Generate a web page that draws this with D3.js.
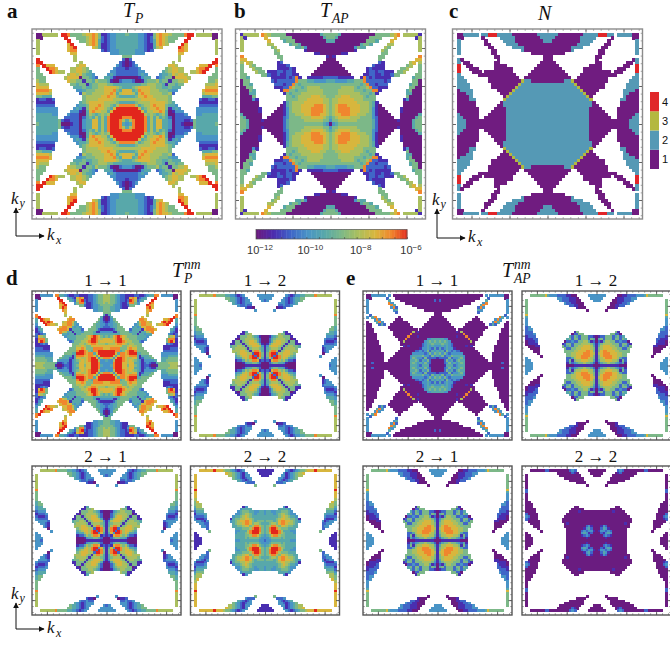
<!DOCTYPE html>
<html>
<head>
<meta charset="utf-8">
<script src="https://cdnjs.cloudflare.com/ajax/libs/d3/7.8.5/d3.min.js"></script>
<style>
html, body { margin: 0; padding: 0; background: #fff; overflow: hidden; }
svg { display: block; }
text { font-family: "Liberation Serif", serif; fill: #111; }
</style>
</head>
<body>
<div id="chart"></div>
<script>
// Level readings per cell, one wedge of the top-left quadrant of each map.
// Row r lists columns r..29 (right aligned), column 29 is the centre line, '.' = no states at this k.
// Levels 0-9 run along the 10^-12 .. 10^-6 colour bar.
var gridTP = [
"0066666.9985555677875112334445",
"0.......9...55567875212334444",
"........9...5567874212334444",
".......79....67874112334444",
"......789.....764112334444",
".....788........212333444",
".....77...........333444",
".....6...............55",
"....6...............20",
".....6............210",
"...677..........3210",
"667765........32221",
"677654......332222",
"675443....3432222",
"055432..44310000",
"155465554100233",
"14556665544444",
"4556677776544",
"566677785477",
"66677874677",
"6778775444",
"777766666",
"66665444",
"6546888",
"479999",
"99999",
"9999",
"988",
"64",
"3"];
var gridTAP = [
"1166666.87655555000000000004555",
"1......7....55550000000000455",
".......7....4555000000000044",
"......66.....45540000000000",
"......56......445300000000",
"......56........100000000",
".....55...........110000",
".....55..............10",
".....5..............00",
"...12.............000",
"..1112..........0000",
".111121.......00000",
"221221......000000",
"112211....0000000",
"121281..11111222",
"222855544333344",
"28545555555555",
"6554566665555",
"455566666555",
"56666666555",
"6667776655",
"677777665",
"77777665",
"7888765",
"888765",
"88765",
"7765",
"654",
"53",
"0"];
var gridN = [
"1122222.224442222211111111"+"2222",
"1......1.....22222111111112"+"22",
".......1.....2222111111111"+"22",
"......11.....2222"+"1111111111",
"......11......2222"+"11111111",
"......11........2"+"11111111",
".....11...........111111",
".....11..............11",
".....1..............11",
"...11.............111",
"..1111..........1111",
".111111.......11111",
"111111......111111",
"111111....1111111",
"111111..11111111",
"111111322111111",
"11113222222222",
"1132222222222",
"322222222222",
"22222222222",
"2222222222",
"222222222",
"22222222",
"2222222",
"222222",
"22222",
"2222",
"222",
"22",
"2"];
var gridP11 = [
"0033333.8844321122111122345566",
"0.......9...43217871122345566",
"........9...4326892122345566",
".......89....35883112345565",
"......789.....552112334555",
".....798........112334455",
".....87...........334455",
".....7...............55",
"....6...............41",
".....7............410",
"...788..........5310",
"678874........54321",
"788643......544332",
"774343....5544322",
"144442..55542111",
"144435555411333",
"14455555444444",
"5555678987545",
"556679987677",
"66789986777",
"5678876665",
"557777777",
"55888877",
"4889999",
"479999",
"47999",
"3688",
"334",
"33",
"3"];
var gridP12 = [
"..6666668555544332123.....3333",
"............554432123.....333",
"............544321233.....32",
".............43212333......",
"..............322322......",
"................2110.....",
"...................3....",
".......................",
"......................",
".....................",
"....................",
"...................",
"..................",
".................",
"................",
".....14........",
"...11556......",
".155566543100",
"055666654200",
"15667764200",
"1567776410",
"156777631",
"15666541",
"1688641",
"299851",
"29851",
"3741",
"121",
"00",
"0"];
var gridP21 = gridP12;
var gridP22 = [
"..7777779777655432123.....1111",
"............766543213.....111",
"............665432133.....11",
".............54321233......",
"..............432123......",
"................3222.....",
"...................5....",
".......................",
"......................",
".....................",
"....................",
"...................",
"..................",
".................",
"................",
".....13........",
"...34444......",
".345554433443",
"345665434443",
"56765444444",
"6776544444",
"887545554",
"87566544",
"5688654",
"899854",
"99854",
"9754",
"543",
"33",
"2"];
var gridAP11 = [
"00333333.3.0000000000000000000",
"0......2...000000000000000000",
".......4....0000000000000020",
"......83.....00000000000000",
"......84.......00000000000",
".....382........000000000",
".....34...........000000",
".....2...............00",
"....................00",
"....0.............000",
"..000...........0000",
"000000........00000",
"000000......000000",
"000000....0000000",
"0000000.00000000",
"000060100000000",
"00800000000000",
"8000100000000",
"000000033444",
"00000345454",
"0002344544",
"002343433",
"13343242",
"2352434",
"235354",
"32534",
"2221",
"000",
"00",
"0"];
var gridAP12 = [
"..5555557433322221100.....3333",
"............332221110.....333",
"............322211100.....33",
".............32211000......",
"..............221100......",
"................1000.....",
"...................0....",
".......................",
"......................",
".....................",
"....................",
"...................",
"..................",
".................",
"................",
".....15........",
"...02255......",
".425425552210",
"525525552540",
"32255664120",
"5556666531",
"566777641",
"67777651",
"7788751",
"888761",
"88751",
"7651",
"641",
"20",
"0"];
var gridAP21 = gridAP12;
var gridAP22 = [
"..0000002200000000232.....0000",
"............000000210.....000",
"............000000000.....00",
".............00000000......",
"..............000000......",
"................0000.....",
"...................0....",
".......................",
"......................",
".....................",
"....................",
"...................",
"..................",
".................",
"................",
".....00........",
"...00000......",
".000010000000",
"000000000000",
"00000000000",
"0000000000",
"000000000",
"00000000",
"0023100",
"134200",
"23310",
"1200",
"000",
"00",
"0"];

var levelExp = [-12, -11.33, -10.67, -10, -9.33, -8.67, -8, -7.33, -6.67, -6];
var levelColors = ["#6a1b80", "#4a2db0", "#3f66c8", "#4a94c6", "#58a8aa", "#7cb888", "#aabf5e", "#d8b63e", "#f0862e", "#e2281e"];
var barTicks = [-12, -10, -8, -6];
var legendLabels = ["1", "2", "3", "4"];
var legendColors = ["#701a80", "#5599b5", "#b4b840", "#e0282a"];
var majorTicks = [-2, -1, 0, 1, 2];
var minorTicks = d3.range(-24, 25, 2).map(function(d) { return d / 10; });

var width = 670, height = 648;
var kMax = 2.5, kData = 2.386, nCells = 59;

var svg = d3.select("#chart").append("svg")
    .attr("width", width)
    .attr("height", height);

var defs = svg.append("defs");
defs.append("filter").attr("id", "soft")
    .attr("x", "-5%").attr("y", "-5%").attr("width", "110%").attr("height", "110%")
  .append("feGaussianBlur").attr("stdDeviation", 0.7);
defs.append("marker").attr("id", "arrow")
    .attr("viewBox", "0 0 10 10").attr("refX", 9).attr("refY", 5)
    .attr("markerWidth", 6).attr("markerHeight", 6).attr("orient", "auto")
  .append("path").attr("d", "M0,0L10,5L0,10Z").attr("fill", "#111");

var colorT = d3.scaleLinear().domain(levelExp).range(levelColors);
var colorN = d3.scaleOrdinal().domain(legendLabels).range(legendColors);

// fold a 59x59 cell index back to the stored wedge
function readCell(grid, i, j) {
    var r = i < 30 ? i : 58 - i;
    var c = j < 30 ? j : 58 - j;
    var a = Math.min(r, c), b = Math.max(r, c);
    var row = grid[a];
    return row.charAt(row.length - (30 - b));
}

function drawPanel(grid, x0, y0, size, frameColor, categorical) {
    var g = svg.append("g");
    var kx = d3.scaleLinear().domain([-kMax, kMax]).range([x0, x0 + size]);
    var ky = d3.scaleLinear().domain([-kMax, kMax]).range([y0, y0 + size]);
    var bx = d3.scaleBand().domain(d3.range(nCells)).range([kx(-kData), kx(kData)]);
    var by = d3.scaleBand().domain(d3.range(nCells)).range([ky(-kData), ky(kData)]);

    var cells = [];
    d3.range(nCells).forEach(function(i) {
        d3.range(nCells).forEach(function(j) {
            var ch = readCell(grid, i, j);
            if (ch && ch !== ".") cells.push({ i: i, j: j, v: ch });
        });
    });

    g.append("g").attr("filter", "url(#soft)")
        .selectAll("rect")
        .data(cells)
        .enter().append("rect")
        .attr("x", function(d) { return bx(d.j); })
        .attr("y", function(d) { return by(d.i); })
        .attr("width", bx.bandwidth() + 0.6)
        .attr("height", by.bandwidth() + 0.6)
        .attr("shape-rendering", "crispEdges")
        .attr("fill", function(d) {
            return categorical ? colorN(d.v) : colorT(levelExp[+d.v]);
        });

    var sides = [
        [d3.axisTop(kx), "translate(0," + y0 + ")"],
        [d3.axisBottom(kx), "translate(0," + (y0 + size) + ")"],
        [d3.axisLeft(ky), "translate(" + x0 + ",0)"],
        [d3.axisRight(ky), "translate(" + (x0 + size) + ",0)"]
    ];
    sides.forEach(function(s) {
        var minor = g.append("g").attr("transform", s[1])
            .call(s[0].tickValues(minorTicks).tickSizeInner(-1.8).tickSizeOuter(0).tickFormat(""));
        minor.select(".domain").remove();
        minor.selectAll("line").attr("stroke", "#666").attr("stroke-width", 0.6);
        var major = g.append("g").attr("transform", s[1])
            .call(s[0].tickValues(majorTicks).tickSizeInner(-3.5).tickSizeOuter(0).tickFormat(""));
        major.select(".domain").remove();
        major.selectAll("line").attr("stroke", "#444").attr("stroke-width", 0.8);
    });
    g.append("rect")
        .attr("x", x0).attr("y", y0).attr("width", size).attr("height", size)
        .attr("fill", "none").attr("stroke", frameColor).attr("stroke-width", 1.4);
}

drawPanel(gridTP, 32, 29, 190, "#8c8c8c", false);
drawPanel(gridTAP, 235.5, 29, 190, "#8c8c8c", false);
drawPanel(gridN, 452.5, 29, 190, "#8c8c8c", true);
drawPanel(gridP11, 32, 291, 149, "#555", false);
drawPanel(gridP12, 190.5, 291, 149, "#555", false);
drawPanel(gridP21, 32, 466, 149, "#555", false);
drawPanel(gridP22, 190.5, 466, 149, "#555", false);
drawPanel(gridAP11, 363, 291, 149, "#555", false);
drawPanel(gridAP12, 522, 291, 149, "#555", false);
drawPanel(gridAP21, 363, 466, 149, "#555", false);
drawPanel(gridAP22, 522, 466, 149, "#555", false);

// panel letters
[["a", 7, 18], ["b", 234, 18], ["c", 449, 18], ["d", 6, 285], ["e", 346, 285]].forEach(function(d) {
    svg.append("text").attr("x", d[1]).attr("y", d[2])
        .attr("font-size", 21).attr("font-weight", "bold").text(d[0]);
});

// maths-like titles, sub and superscripts as separate bits of text
function mathTitle(x, y, main, sub, sup, size) {
    svg.append("text").attr("x", x).attr("y", y)
        .attr("font-size", size).attr("font-style", "italic").text(main);
    var w = main === "N" ? 0 : size * 0.6;
    if (sub) {
        svg.append("text").attr("x", x + w).attr("y", y + size * 0.28)
            .attr("font-size", size * 0.68).attr("font-style", "italic").text(sub);
    }
    if (sup) {
        svg.append("text").attr("x", x + w).attr("y", y - size * 0.42)
            .attr("font-size", size * 0.68).attr("font-style", "italic").text(sup);
    }
}
mathTitle(123, 17, "T", "P", "", 20);
mathTitle(320, 17, "T", "AP", "", 20);
mathTitle(538, 20, "N", "", "", 20);
mathTitle(172, 277, "T", "P", "nm", 20);
mathTitle(502, 277, "T", "AP", "nm", 20);

// channel titles
[[105.5, 286, "1 \u2192 1"], [265, 286, "1 \u2192 2"], [437, 286, "1 \u2192 1"], [596, 286, "1 \u2192 2"],
 [105.5, 462, "2 \u2192 1"], [265, 462, "2 \u2192 2"], [437, 462, "2 \u2192 1"], [596, 462, "2 \u2192 2"]].forEach(function(d) {
    svg.append("text").attr("x", d[0]).attr("y", d[1])
        .attr("text-anchor", "middle").attr("font-size", 17).text(d[2]);
});

// k axes arrows
function kArrows(x, y, up, right) {
    svg.append("line").attr("x1", x).attr("y1", y).attr("x2", x).attr("y2", up)
        .attr("stroke", "#111").attr("marker-end", "url(#arrow)");
    svg.append("line").attr("x1", x).attr("y1", y).attr("x2", right).attr("y2", y)
        .attr("stroke", "#111").attr("marker-end", "url(#arrow)");
    svg.append("text").attr("x", x - 5).attr("y", up - 4).attr("font-size", 17).attr("font-style", "italic").text("k");
    svg.append("text").attr("x", x + 3.5).attr("y", up - 1).attr("font-size", 12).attr("font-style", "italic").text("y");
    svg.append("text").attr("x", right + 3).attr("y", y + 4).attr("font-size", 17).attr("font-style", "italic").text("k");
    svg.append("text").attr("x", right + 12).attr("y", y + 8).attr("font-size", 12).attr("font-style", "italic").text("x");
}
kArrows(16, 236, 208, 44);
kArrows(437, 238, 209, 465);
kArrows(16, 629, 603, 44);

// colour bar
var barX = d3.scaleLinear().domain([-12, -6]).range([256, 407]);
var barSteps = d3.range(-12, -6, 0.1);
svg.append("g").selectAll("rect").data(barSteps).enter().append("rect")
    .attr("x", function(d) { return barX(d); })
    .attr("y", 229.5)
    .attr("width", barX(-11.9) - barX(-12) + 0.4)
    .attr("height", 9.5)
    .attr("fill", function(d) { return colorT(d); });
svg.append("rect").attr("x", 256).attr("y", 229.5).attr("width", 151).attr("height", 9.5)
    .attr("fill", "none").attr("stroke", "#555").attr("stroke-width", 0.7);
var barAxis = svg.append("g").attr("transform", "translate(0,239)")
    .call(d3.axisBottom(barX).tickValues(d3.range(-12, -5.9, 0.5)).tickSizeInner(-2).tickSizeOuter(0).tickFormat(""));
barAxis.select(".domain").remove();
barAxis.selectAll("line").attr("stroke", "#444").attr("stroke-width", 0.6);
barTicks.forEach(function(t) {
    var lab = svg.append("text").attr("x", barX(t) + 4).attr("y", 254)
        .attr("text-anchor", "middle")
        .style("font-family", "'Liberation Sans', sans-serif")
        .style("fill", "#333")
        .attr("font-size", 11).text("10");
    lab.append("tspan").attr("dy", -4).attr("font-size", 8).text("\u2212" + (-t));
});

// category legend of N
var legY = d3.scaleBand().domain(legendLabels.slice().reverse()).range([92, 169]);
svg.append("g").selectAll("rect").data(legendLabels).enter().append("rect")
    .attr("x", 650).attr("width", 9)
    .attr("y", function(d) { return legY(d); })
    .attr("height", legY.bandwidth())
    .attr("fill", function(d) { return colorN(d); });
svg.append("g").selectAll("text").data(legendLabels).enter().append("text")
    .attr("x", 662)
    .attr("y", function(d) { return legY(d) + legY.bandwidth() / 2 + 4; })
    .style("font-family", "'Liberation Sans', sans-serif")
    .attr("font-size", 11)
    .text(function(d) { return d; });
</script>
</body>
</html>
